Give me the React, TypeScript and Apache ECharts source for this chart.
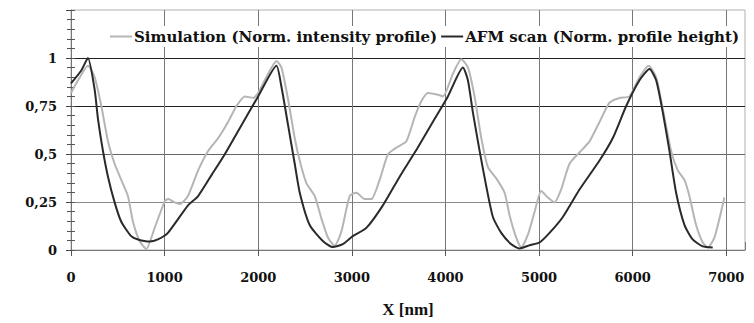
import React, { useEffect, useRef } from "react";
import * as echarts from "echarts";

const afmX = [0, 110, 181, 253, 288, 341, 395, 466, 537, 643, 715, 839, 928, 1035, 1248, 1358, 1501, 1643, 1821, 1999, 2195, 2248, 2319, 2390, 2443, 2550, 2690, 2796, 2903, 3010, 3155, 3330, 3511, 3700, 3885, 4026, 4187, 4240, 4293, 4365, 4436, 4507, 4596, 4703, 4792, 4899, 5005, 5112, 5254, 5432, 5646, 5788, 5931, 6073, 6180, 6251, 6322, 6393, 6464, 6553, 6641, 6748, 6855];
const afmY = [0.868, 0.935, 1.0, 0.834, 0.683, 0.517, 0.382, 0.248, 0.147, 0.072, 0.055, 0.044, 0.055, 0.089, 0.231, 0.281, 0.39, 0.499, 0.65, 0.8, 0.96, 0.85, 0.65, 0.449, 0.3, 0.13, 0.047, 0.015, 0.03, 0.072, 0.115, 0.231, 0.382, 0.53, 0.683, 0.8, 0.951, 0.884, 0.717, 0.516, 0.332, 0.172, 0.089, 0.03, 0.008, 0.025, 0.039, 0.089, 0.172, 0.315, 0.466, 0.583, 0.75, 0.884, 0.943, 0.884, 0.717, 0.516, 0.298, 0.131, 0.055, 0.019, 0.013];

const simX = [0, 75, 181, 253, 324, 395, 466, 537, 608, 662, 733, 804, 893, 1003, 1039, 1107, 1163, 1249, 1358, 1465, 1572, 1678, 1768, 1857, 1946, 1999, 2106, 2195, 2248, 2319, 2390, 2443, 2515, 2604, 2675, 2746, 2817, 2889, 2977, 3049, 3137, 3209, 3297, 3386, 3475, 3582, 3671, 3742, 3813, 3920, 3973, 4080, 4169, 4240, 4311, 4383, 4454, 4543, 4632, 4685, 4756, 4810, 4881, 4952, 5023, 5094, 5165, 5236, 5325, 5432, 5539, 5646, 5752, 5859, 5966, 6073, 6170, 6251, 6322, 6411, 6482, 6553, 6606, 6677, 6748, 6802, 6873, 6944, 6979];
const simY = [0.818, 0.884, 0.96, 0.9, 0.75, 0.566, 0.449, 0.365, 0.281, 0.147, 0.047, 0.005, 0.114, 0.256, 0.265, 0.248, 0.24, 0.281, 0.415, 0.516, 0.583, 0.667, 0.75, 0.8, 0.792, 0.818, 0.918, 0.985, 0.951, 0.784, 0.583, 0.466, 0.348, 0.281, 0.164, 0.064, 0.022, 0.097, 0.281, 0.298, 0.265, 0.265, 0.365, 0.499, 0.533, 0.566, 0.692, 0.775, 0.818, 0.809, 0.8, 0.918, 0.993, 0.951, 0.8, 0.583, 0.432, 0.373, 0.298, 0.181, 0.064, 0.013, 0.08, 0.198, 0.307, 0.273, 0.248, 0.315, 0.449, 0.508, 0.566, 0.667, 0.767, 0.792, 0.8, 0.9, 0.96, 0.9, 0.734, 0.516, 0.415, 0.365, 0.281, 0.131, 0.039, 0.013, 0.064, 0.198, 0.273];

const yTickLabels = ["0", "0,25", "0,5", "0,75", "1"];
const xTickValues = [0, 1000, 2000, 3000, 4000, 5000, 6000, 7000];
const seriesNames = ["Simulation (Norm. intensity profile)", "AFM scan (Norm. profile height)"];
const seriesColors = ["#b5b5b5", "#2a2a2a"];

const WIDE = "'DejaVu Serif', serif";
const TIMES = "'Liberation Serif', 'Times New Roman', serif";

export default function App() {
  const ref = useRef<HTMLDivElement>(null);
  useEffect(() => {
    document.body.style.margin = "0";
    if (!ref.current) return;
    const chart = echarts.init(ref.current, null, { renderer: "svg" });
    const pairs = (xs: number[], ys: number[]) => xs.map((x, i) => [x, ys[i]]);
    chart.setOption({
      animation: false,
      backgroundColor: "#fff",
      grid: { left: 71, right: 9, top: 10, bottom: 67, show: true, borderColor: "#b0b0b0", borderWidth: 1 },
      legend: {
        left: 107,
        top: 26,
        itemWidth: 22,
        itemHeight: 2,
        itemGap: 4,
        padding: [3, 3],
        backgroundColor: "#fff",
        textStyle: { fontFamily: WIDE, fontWeight: "bold", fontSize: 15, color: "#111", padding: [0, 0, 0, -3] },
        data: seriesNames.map((n) => ({ name: n, icon: "rect" })),
      },
      xAxis: [
        {
          type: "value",
          min: 0,
          max: 7200,
          interval: 1000,
          name: "X [nm]",
          nameLocation: "middle",
          nameGap: 51,
          nameTextStyle: { fontFamily: TIMES, fontWeight: "bold", fontSize: 17, color: "#111" },
          axisLine: { show: true, lineStyle: { color: "#777", width: 1 } },
          axisTick: { show: true, length: 6, lineStyle: { color: "#555" } },
          axisLabel: {
            margin: 21,
            fontFamily: WIDE,
            fontWeight: "bold",
            fontSize: 13,
            color: "#111",
            showMaxLabel: false,
            formatter: (v: number) => (xTickValues.includes(v) ? String(v) : ""),
          },
          splitLine: { show: true, showMinLine: false, showMaxLine: false, lineStyle: { color: "#777", width: 1 } },
        },
        {
          type: "value",
          position: "top",
          min: 0,
          max: 7200,
          interval: 1000,
          axisLine: { show: false },
          axisTick: { show: true, length: 8, lineStyle: { color: "#777" } },
          axisLabel: { show: false },
          splitLine: { show: false },
        },
      ],
      yAxis: [
        {
          type: "value",
          min: 0,
          max: 1.25,
          interval: 0.25,
          axisLine: { show: true, lineStyle: { color: "#777", width: 1 } },
          axisTick: { show: true, length: 5, lineStyle: { color: "#444" } },
          minorTick: { show: true, splitNumber: 5, length: 4, lineStyle: { color: "#555" } },
          axisLabel: {
            margin: 14,
            fontFamily: WIDE,
            fontWeight: "bold",
            fontSize: 13,
            color: "#111",
            formatter: (v: number) => {
              const i = Math.round(v / 0.25);
              return i < yTickLabels.length ? yTickLabels[i] : "";
            },
          },
          splitLine: {
            show: true,
            showMinLine: false,
            showMaxLine: false,
            lineStyle: { color: ["#8a8a8a", "#666", "#222", "#222"], width: 1 },
          },
        },
        {
          type: "value",
          position: "left",
          min: 0,
          max: 1.25,
          interval: 0.25,
          axisLine: { show: false },
          axisTick: { show: true, inside: true, length: 4, lineStyle: { color: "#555" } },
          minorTick: { show: true, splitNumber: 5, length: 4, lineStyle: { color: "#555" } },
          axisLabel: { show: false },
          splitLine: { show: false },
        },
      ],
      series: [
        {
          name: seriesNames[0],
          type: "line",
          showSymbol: false,
          symbol: "none",
          smooth: 0.2,
          data: pairs(simX, simY),
          lineStyle: { color: seriesColors[0], width: 2 },
          itemStyle: { color: seriesColors[0] },
          z: 2,
        },
        {
          name: seriesNames[1],
          type: "line",
          showSymbol: false,
          symbol: "none",
          smooth: 0.2,
          data: pairs(afmX, afmY),
          lineStyle: { color: seriesColors[1], width: 2 },
          itemStyle: { color: seriesColors[1] },
          z: 3,
        },
      ],
    });
    return () => chart.dispose();
  }, []);
  return <div ref={ref} style={{ width: 754, height: 323 }} />;
}
